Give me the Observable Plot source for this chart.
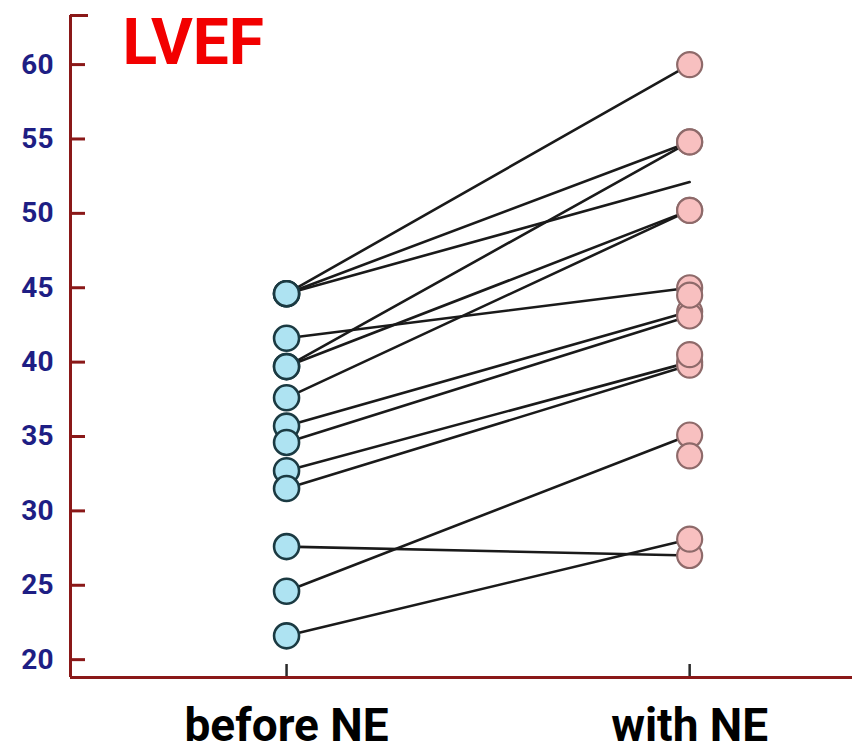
<!DOCTYPE html>
<html>
<head>
<meta charset="utf-8">
<script src="https://cdn.jsdelivr.net/npm/d3@7"></script>
<script src="https://cdn.jsdelivr.net/npm/@observablehq/plot@0.6"></script>
<style>
  html, body { margin: 0; padding: 0; background: #ffffff; }
  #chart svg { display: block; }
</style>
</head>
<body>
<div id="chart"></div>
<script>
// ---- data ----
const groups = ["before NE", "with NE"];
const title = "LVEF";
const yTicks = [20, 25, 30, 35, 40, 45, 50, 55, 60];
// paired patients: value before NE and with NE
const beforeValues = [44.6, 44.6, 44.6, 41.6, 39.7, 39.7, 37.6, 35.7, 34.6, 32.7, 31.5, 27.6, 24.6, 21.6];
const withValues   = [60.0, 54.8, 52.1, 45.0, 54.8, 50.2, 50.2, 43.4, 43.1, 40.0, 39.8, 27.0, 35.1, 28.1];
// with-NE markers that have no visible connecting line
const withOnlyValues = [44.5, 40.5, 33.7];
// with-NE line end drawn without a marker
const withUnmarked = [52.1];

// ---- derived tables ----
const pairs = beforeValues.map((b, i) => ({id: i, before: b, after: withValues[i]}));
const lineData = pairs.flatMap(p => [
  {id: p.id, g: 0, v: p.before},
  {id: p.id, g: 1, v: p.after}
]);
const beforeDots = pairs.map(p => ({g: 0, v: p.before}));
const withDots = pairs.filter(p => !withUnmarked.includes(p.after)).map(p => ({g: 1, v: p.after}))
  .concat(withOnlyValues.map(v => ({g: 1, v})));

const W = 852, H = 753;
const mL = 70, mR = 0, mT = 15, mB = 76;
const xDomain = [-0.536, 1.404];
const yDomain = [18.8, 63.3];
const axisRed = "#8a1818";
const font = "Roboto, 'Open Sans', 'DejaVu Sans', sans-serif";

const chart = Plot.plot({
  width: W,
  height: H,
  marginLeft: mL,
  marginRight: mR,
  marginTop: mT,
  marginBottom: mB,
  style: {background: "#ffffff", fontFamily: font},
  x: {type: "linear", domain: xDomain},
  y: {domain: yDomain},
  marks: [
    // y tick labels
    Plot.axisY({
      ticks: yTicks, tickSize: 0, tickPadding: 17, label: null,
      fontSize: 28, fontWeight: "bold", fill: "#1e1e84", fontFamily: font
    }),
    // x tick labels
    Plot.axisX({
      ticks: [0, 1], tickFormat: i => groups[i], tickSize: 0, tickPadding: 31, label: null,
      fontSize: 46, fontWeight: "bold", fill: "#000000", fontFamily: font
    }),
    // inward y ticks
    Plot.tickY(yTicks, {y: d => d, stroke: axisRed, strokeWidth: 3, insetRight: W - mL - mR - 15}),
    // top cap of the y axis
    Plot.tickY([yDomain[1]], {y: d => d, stroke: axisRed, strokeWidth: 3, insetRight: W - mL - mR - 18}),
    // upward x ticks
    Plot.tickX([0, 1], {x: d => d, stroke: "#2a2a2a", strokeWidth: 2.5, insetTop: (H - mT - mB) - 13}),
    // axis lines
    Plot.ruleX([xDomain[0]], {stroke: axisRed, strokeWidth: 3}),
    Plot.ruleY([yDomain[0]], {stroke: axisRed, strokeWidth: 3}),
    // connecting lines
    Plot.line(lineData, {x: "g", y: "v", z: "id", stroke: "#1a1a1a", strokeWidth: 2.6}),
    // markers
    Plot.dot(beforeDots, {x: "g", y: "v", r: 12.5, fill: "#aee3f2", stroke: "#1b3a42", strokeWidth: 2.6}),
    Plot.dot(withDots, {x: "g", y: "v", r: 12.5, fill: "#f8c0c0", stroke: "#8e6a6a", strokeWidth: 2.2}),
    // title
    Plot.text([title], {
      frameAnchor: "top-left", dx: 52, dy: 3, lineAnchor: "top", textAnchor: "start",
      fontSize: 64, fontWeight: "bold", fill: "#f20000", fontFamily: font
    })
  ]
});
document.getElementById("chart").appendChild(chart);
</script>
</body>
</html>
